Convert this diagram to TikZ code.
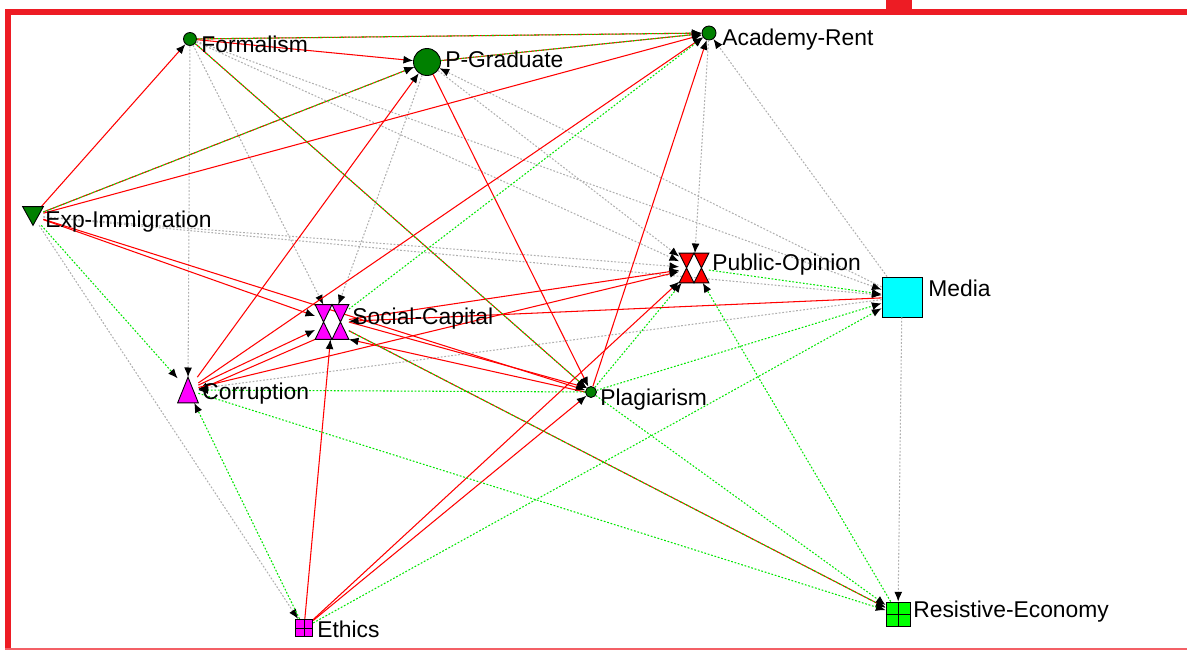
\documentclass[tikz,border=0pt]{standalone}
\usepackage{fontspec}
\setmainfont{Liberation Sans}
\usetikzlibrary{arrows.meta}
\definecolor{framered}{RGB}{237,28,36}
\definecolor{darkgreen}{RGB}{0,128,0}
\definecolor{limegreen}{RGB}{0,255,0}
\definecolor{nodemagenta}{RGB}{255,0,255}
\definecolor{nodecyan}{RGB}{0,255,255}
\definecolor{tiegreen}{RGB}{0,230,0}
\definecolor{tiegray}{RGB}{175,175,175}
\tikzset{
  redtie/.style={draw,red,line width=0.6pt,->},
  greentie/.style={draw,tiegreen,line width=0.6pt,dash pattern=on 1pt off 1pt,->},
  graytie/.style={draw,tiegray,line width=0.6pt,dash pattern=on 1pt off 1pt,->},
  lbl/.style={anchor=base west,inner sep=0pt,font=\fontsize{13}{15}\selectfont}
}
\begin{document}
\begin{tikzpicture}[x=0.02cm,y=-0.02cm,>={Latex[color=black,length=5.5pt,width=4.5pt]}]
        \useasboundingbox (0,0) rectangle (1187,650);

        % frame
        \fill[framered] (886,0) rectangle (912,12);
        \fill[framered] (5,9) rectangle (1187,15);
        \fill[framered] (5,9) rectangle (11,650);
        \draw[framered!70,line width=0.6pt] (5,649) -- (1187,649);

        \begin{scope}[every node/.style={draw,inner sep=0pt,line width=0.5pt}]
          \node[circle,fill=darkgreen,minimum size=0.26cm] (Formalism) at (190,39) {};
          \node[circle,fill=darkgreen,minimum size=0.54cm] (PGraduate) at (427,62) {};
          \node[circle,fill=darkgreen,minimum size=0.28cm] (AcademyRent) at (709,33) {};
          \node[circle,fill=darkgreen,minimum size=0.22cm] (Plagiarism) at (591,392) {};
          \node[rectangle,fill=nodecyan,minimum size=0.8cm] (Media) at (902,297) {};
          \node[rectangle,fill=nodemagenta,minimum size=0.35cm] (Ethics) at (304,628) {};
          \node[rectangle,fill=limegreen,minimum size=0.48cm] (ResistiveEconomy) at (898,614) {};
        \end{scope}

        \begin{scope}[every node/.style={inner sep=0pt}]
          \node[minimum width=0.4cm,minimum height=0.36cm] (ExpImmigration) at (33,216) {};
          \node[minimum width=0.66cm,minimum height=0.68cm] (SocialCapital) at (332,322) {};
          \node[minimum size=0.58cm] (PublicOpinion) at (694,268) {};
          \node[minimum width=0.4cm,minimum height=0.5cm] (Corruption) at (188,390) {};
        \end{scope}

        % gray ties
        \begin{scope}[every edge/.style={graytie}]
          \path (Formalism) edge (Corruption);
          \path (Formalism) edge (SocialCapital);
          \path (Formalism) edge (PublicOpinion);
          \path (Formalism) edge (Media);
          \path (ExpImmigration) edge (PublicOpinion);
          \path (ExpImmigration) edge (Media);
          \path (ExpImmigration) edge (Ethics);
          \path (PGraduate) edge (SocialCapital);
          \path (PGraduate) edge (PublicOpinion);
          \path (Media) edge (PGraduate);
          \path (AcademyRent) edge (PublicOpinion);
          \path (Media) edge (AcademyRent);
          \path (Media) edge (Corruption);
          \path (Media) edge (ResistiveEconomy);
        \end{scope}

        % red ties
        \begin{scope}[every edge/.style={redtie}]
          \path (Formalism) edge (PGraduate);
          \path (Formalism) edge (AcademyRent);
          \path (Formalism) edge (Plagiarism);
          \path (ExpImmigration) edge (Formalism);
          \path (ExpImmigration) edge (PGraduate);
          \path (ExpImmigration) edge (AcademyRent);
          \path (ExpImmigration) edge (SocialCapital);
          \path (ExpImmigration) edge (Plagiarism);
          \path (PGraduate) edge (AcademyRent);
          \path (PGraduate) edge (Plagiarism);
          \path (Corruption) edge (PGraduate);
          \path (Corruption) edge (AcademyRent);
          \path (Corruption) edge (SocialCapital);
          \path (SocialCapital.south west) edge (Corruption.east);
          \path (Corruption) edge (PublicOpinion);
          \path (Plagiarism) edge (AcademyRent);
          \path[<->] (Ethics) edge (SocialCapital);
          \path (Ethics) edge (Plagiarism);
          \path (Ethics) edge (PublicOpinion);
          \path (SocialCapital.east) edge (Plagiarism.north west);
          \path (Plagiarism.west) edge (SocialCapital.south east);
          \path (SocialCapital) edge (PublicOpinion);
          \path (Media) edge (SocialCapital);
          \path (SocialCapital) edge (ResistiveEconomy);
        \end{scope}

        % green ties
        \begin{scope}[every edge/.style={greentie}]
          \path (Formalism) edge (AcademyRent);
          \path (ExpImmigration) edge (PGraduate);
          \path (PGraduate) edge (AcademyRent);
          \path (Formalism) edge (Plagiarism);
          \path (SocialCapital) edge (ResistiveEconomy);
          \path (ExpImmigration) edge (Corruption);
          \path (SocialCapital) edge (AcademyRent);
          \path (Plagiarism) edge (Corruption);
          \path (Corruption) edge (ResistiveEconomy);
          \path (Ethics) edge (Corruption);
          \path (Ethics) edge (Media);
          \path (PublicOpinion) edge (Media);
          \path (Plagiarism) edge (PublicOpinion);
          \path[solid] (ResistiveEconomy) edge (PublicOpinion);
          \path (Plagiarism) edge (Media);
          \path (Plagiarism) edge (ResistiveEconomy);
        \end{scope}

        % node shapes
        \begin{scope}[line width=0.5pt]
          \filldraw[fill=darkgreen] (ExpImmigration.north west) -- (ExpImmigration.north east) -- (ExpImmigration.south) -- cycle;
          \filldraw[fill=nodemagenta] (Corruption.south west) -- (Corruption.south east) -- (Corruption.north) -- cycle;
          \fill[nodemagenta] (SocialCapital.north west) -- (SocialCapital.north east) -- (SocialCapital.south) -- cycle
            (SocialCapital.south west) -- (SocialCapital.south east) -- (SocialCapital.north) -- cycle;
          \draw (SocialCapital.north west) -- (SocialCapital.north east) -- (SocialCapital.south) -- cycle
            (SocialCapital.south west) -- (SocialCapital.south east) -- (SocialCapital.north) -- cycle;
          \fill[red] (PublicOpinion.north west) -- (PublicOpinion.north east) -- (PublicOpinion.south) -- cycle
            (PublicOpinion.south west) -- (PublicOpinion.south east) -- (PublicOpinion.north) -- cycle;
          \draw (PublicOpinion.north west) -- (PublicOpinion.north east) -- (PublicOpinion.south) -- cycle
            (PublicOpinion.south west) -- (PublicOpinion.south east) -- (PublicOpinion.north) -- cycle;
          \draw (Ethics.north) -- (Ethics.south) (Ethics.west) -- (Ethics.east);
          \draw (ResistiveEconomy.north) -- (ResistiveEconomy.south) (ResistiveEconomy.west) -- (ResistiveEconomy.east);
        \end{scope}

        % labels
        \node[lbl] (lFormalism) at (201,52) {Formalism};
        \node[lbl] (lPGraduate) at (445,67) {P-Graduate};
        \node[lbl] (lAcademyRent) at (722,45) {Academy-Rent};
        \node[lbl] (lExpImmigration) at (45,227) {Exp-Immigration};
        \node[lbl] (lSocialCapital) at (352,324) {Social-Capital};
        \node[lbl] (lPublicOpinion) at (712,270) {Public-Opinion};
        \node[lbl] (lMedia) at (928,296) {Media};
        \node[lbl] (lCorruption) at (202,399) {Corruption};
        \node[lbl] (lPlagiarism) at (600,405) {Plagiarism};
        \node[lbl] (lEthics) at (317,637) {Ethics};
        \node[lbl] (lResistiveEconomy) at (913,617) {Resistive-Economy};

      \end{tikzpicture}
\end{document}
